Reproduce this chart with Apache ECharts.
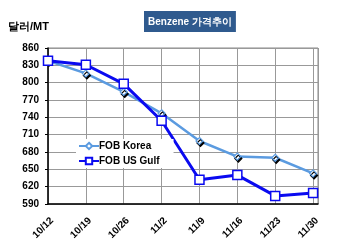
<!DOCTYPE html>
<html><head><meta charset="utf-8">
<script src="https://cdn.jsdelivr.net/npm/echarts@6/dist/echarts.min.js"></script>
<style>html,body{margin:0;padding:0;background:#fff}#c{width:350px;height:246px}</style>
</head><body><div id="c"></div>
<script>
var categories = ['10/12','10/19','10/26','11/2','11/9','11/16','11/23','11/30'];
var fobKorea = [838, 816, 784, 747, 699, 672, 670, 643];
var fobUSGulf = [838, 831, 798, 734, 632, 640, 604, 609];
var yTicks = {min: 590, max: 860, step: 30};
var titleText = 'Benzene 가격추이';
var unitText = '달러/MT';

function pairs(arr){ return arr.map(function(v,i){ return [i, v]; }); }
function catLabel(v){ return (Math.abs(v - Math.round(v)) < 1e-6) ? (categories[Math.round(v)] || '') : ''; }

var chart = echarts.init(document.getElementById('c'), null, {renderer:'canvas'});
var font = 'Liberation Sans, Arial, sans-serif';
chart.setOption({
  animation: false,
  backgroundColor: '#fff',
  title: {
    text: titleText, left: 144, top: 11,
    backgroundColor: '#2f5a8e', padding: [5, 4, 4, 4],
    textStyle: {color: '#fff', fontSize: 10, fontWeight: 'bold', fontFamily: font, lineHeight: 12}
  },
  graphic: [{
    type: 'text', left: 8, top: 21,
    style: {text: unitText, fill: '#000', font: 'bold 11px ' + font}
  }],
  legend: {
    left: 76, top: 139, orient: 'vertical', itemGap: 5,
    backgroundColor: '#fff', padding: [2, 14, 2, 2],
    itemWidth: 20, itemHeight: 8,
    textStyle: {fontSize: 10, fontWeight: 'bold', color: '#000', fontFamily: font, padding: [0,0,0,-5]},
    data: ['FOB Korea', 'FOB US Gulf']
  },
  grid: [
    {left: 48, right: 32, top: 48, bottom: 42, show: true, borderColor: '#888', borderWidth: 1},
    {left: 52, right: 28, top: 48, bottom: 42, show: false}
  ],
  xAxis: [{
    gridIndex: 0, type: 'value', min: 0, max: 7.13, interval: 1,
    axisLine: {show: true, lineStyle: {color: '#000', width: 1.5}},
    axisTick: {show: false},
    splitLine: {show: true, lineStyle: {color: '#999', width: 1}},
    axisLabel: {show: false}
  }, {
    gridIndex: 1, type: 'value', min: 0, max: 7.13, interval: 1, position: 'bottom',
    axisLine: {show: false}, axisTick: {show: false}, splitLine: {show: false},
    axisLabel: {
      rotate: 45, margin: 15, fontSize: 10, fontWeight: 'bold', color: '#000', fontFamily: font,
      formatter: catLabel
    }
  }],
  yAxis: [{
    gridIndex: 0, type: 'value', min: yTicks.min, max: yTicks.max, interval: yTicks.step,
    axisLine: {show: true, lineStyle: {color: '#000', width: 1.5}},
    axisTick: {show: true, length: 3, lineStyle: {color: '#000'}},
    splitLine: {show: true, lineStyle: {color: '#999', width: 1}},
    axisLabel: {fontSize: 10, fontWeight: 'bold', color: '#000', fontFamily: font, margin: 9}
  }, {
    gridIndex: 1, type: 'value', min: yTicks.min, max: yTicks.max, interval: yTicks.step, show: false
  }],
  series: [
    {
      name: 'FOB Korea', type: 'line', data: pairs(fobKorea), xAxisIndex: 0, yAxisIndex: 0,
      symbol: 'diamond', symbolSize: 7, z: 2,
      lineStyle: {color: '#5b9be0', width: 2.5},
      itemStyle: {color: '#fff', borderColor: '#5b9be0', borderWidth: 1.2,
        shadowColor: '#000', shadowOffsetX: 1, shadowOffsetY: 2, shadowBlur: 0}
    },
    {
      name: 'FOB US Gulf', type: 'line', data: pairs(fobUSGulf), xAxisIndex: 0, yAxisIndex: 0,
      symbol: 'rect', symbolSize: 9, z: 3,
      lineStyle: {color: '#0a0af0', width: 3},
      itemStyle: {color: '#fff', borderColor: '#0a0af0', borderWidth: 1.5}
    }
  ]
});
</script></body></html>
